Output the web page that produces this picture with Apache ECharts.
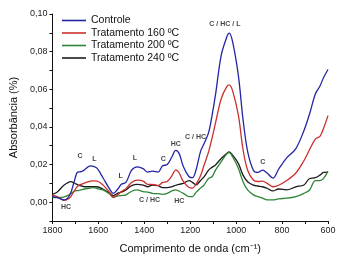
<!DOCTYPE html>
<html>
<head>
<meta charset="utf-8">
<script src="https://cdn.jsdelivr.net/npm/echarts@6/dist/echarts.min.js"></script>
<style>
  html, body { margin: 0; padding: 0; background: #fff; }
  #chart { width: 349px; height: 259px; }
</style>
</head>
<body>
<div id="chart"></div>
<script>
const wavenumbers = [
  1800, 1780, 1760, 1750, 1735, 1720, 1705, 1690, 1675, 1660,
  1635, 1620, 1605, 1580, 1550, 1535, 1515, 1500, 1480, 1455,
  1430, 1405, 1385, 1365, 1340, 1320, 1300, 1280, 1263, 1248,
  1230, 1205, 1190, 1175, 1155, 1140, 1120, 1105, 1090, 1065,
  1040, 1030, 1015, 990, 970, 950, 925, 905, 885, 865,
  840, 815, 780, 740, 705, 680, 655, 635, 620, 600
]

const controle = [
  0.0030, 0.0025, 0.0015, 0.0012, 0.0020, 0.0050, 0.0110, 0.0160, 0.0162, 0.0172,
  0.0193, 0.0190, 0.0180, 0.0130, 0.0068, 0.0047, 0.0070, 0.0095, 0.0105, 0.0170,
  0.0188, 0.0178, 0.0160, 0.0165, 0.0160, 0.0193, 0.0200, 0.0240, 0.0275, 0.0258,
  0.0190, 0.0135, 0.0130, 0.0170, 0.0270, 0.0310, 0.0370, 0.0460, 0.0570, 0.0780,
  0.0880, 0.0898, 0.0850, 0.0670, 0.0440, 0.0270, 0.0170, 0.0158, 0.0170, 0.0155,
  0.0128, 0.0175, 0.0235, 0.0285, 0.0380, 0.0470, 0.0575, 0.0617, 0.0660, 0.0705
]

const trat160 = [
  0.0037, 0.0030, 0.0015, 0.0010, 0.0015, 0.0030, 0.0060, 0.0085, 0.0095, 0.0102,
  0.0112, 0.0113, 0.0112, 0.0092, 0.0050, 0.0027, 0.0040, 0.0056, 0.0072, 0.0105,
  0.0117, 0.0112, 0.0095, 0.0095, 0.0088, 0.0105, 0.0110, 0.0140, 0.0172, 0.0155,
  0.0110, 0.0078, 0.0075, 0.0095, 0.0140, 0.0196, 0.0267, 0.0340, 0.0420, 0.0550,
  0.0615, 0.0623, 0.0590, 0.0460, 0.0280, 0.0170, 0.0118, 0.0110, 0.0112, 0.0100,
  0.0082, 0.0090, 0.0115, 0.0155, 0.0220, 0.0280, 0.0335, 0.0350, 0.0390, 0.0460
]

const trat200 = [
  0.0025, 0.0025, 0.0025, 0.0028, 0.0035, 0.0045, 0.0058, 0.0062, 0.0065, 0.0070,
  0.0075, 0.0077, 0.0072, 0.0065, 0.0042, 0.0025, 0.0033, 0.0035, 0.0039, 0.0058,
  0.0065, 0.0056, 0.0053, 0.0047, 0.0045, 0.0042, 0.0047, 0.0060, 0.0065, 0.0058,
  0.0047, 0.0030, 0.0030, 0.0052, 0.0075, 0.0091, 0.0126, 0.0135, 0.0170, 0.0215,
  0.0258, 0.0263, 0.0240, 0.0179, 0.0109, 0.0065, 0.0039, 0.0030, 0.0021, 0.0012,
  0.0012, 0.0018, 0.0021, 0.0030, 0.0047, 0.0065, 0.0115, 0.0115, 0.0125, 0.0165
]

const trat240 = [
  0.0042, 0.0053, 0.0078, 0.0090, 0.0102, 0.0109, 0.0102, 0.0092, 0.0086, 0.0082,
  0.0082, 0.0083, 0.0082, 0.0070, 0.0048, 0.0035, 0.0048, 0.0053, 0.0065, 0.0088,
  0.0095, 0.0091, 0.0082, 0.0091, 0.0088, 0.0077, 0.0077, 0.0082, 0.0090, 0.0095,
  0.0100, 0.0115, 0.0105, 0.0092, 0.0115, 0.0135, 0.0170, 0.0185, 0.0198, 0.0232,
  0.0260, 0.0267, 0.0249, 0.0205, 0.0144, 0.0109, 0.0091, 0.0086, 0.0082, 0.0074,
  0.0060, 0.0070, 0.0065, 0.0082, 0.0091, 0.0126, 0.0130, 0.0144, 0.0158, 0.0160
]

const seriesNames = ['Controle', 'Tratamento 160 ºC', 'Tratamento 200 ºC', 'Tratamento 240 ºC']
const seriesColors = ['#2424a6', '#c9302c', '#2f8535', '#1c1c1c']
const seriesValues = [controle, trat160, trat200, trat240]

// band labels: [wavenumber, absorbance, text]
const bandLabels = [
  [1680, 0.0246, 'C'],
  [1617, 0.0228, 'L'],
  [1503, 0.0141, 'L'],
  [1441, 0.0235, 'L'],
  [1317, 0.0228, 'C'],
  [1263, 0.0310, 'HC'],
  [1177, 0.0346, 'C / HC'],
  [1049, 0.0947, 'C / HC / L'],
  [884, 0.0214, 'C'],
  [1741, -0.0026, 'HC'],
  [1377, 0.0012, 'C / HC'],
  [1248, 0.0007, 'HC']
]

const chart = echarts.init(document.getElementById('chart'))

const lineSeries = seriesNames.map((name, i) => ({
  name: name,
  type: 'line',
  symbol: 'none',
  smooth: 0.35,
  data: wavenumbers.map((w, j) => [w, seriesValues[i][j]]),
  lineStyle: { color: seriesColors[i], width: 1.3 },
  itemStyle: { color: seriesColors[i] },
  z: 10 - i
}))

const option = {
  animation: false,
  backgroundColor: '#fff',
  textStyle: { fontFamily: 'Liberation Sans, Arial, sans-serif' },
  grid: { left: 48, right: 21, top: 14, bottom: 36 },
  legend: {
    data: seriesNames,
    orient: 'vertical',
    left: 62,
    top: 15,
    padding: 0,
    icon: 'rect',
    itemWidth: 24,
    itemHeight: 1.6,
    itemGap: 1.5,
    textStyle: { fontSize: 10.5, color: '#111' }
  },
  xAxis: {
    type: 'value',
    inverse: true,
    min: 600,
    max: 1800,
    interval: 100,
    name: 'Comprimento de onda (cm⁻¹)',
    nameLocation: 'middle',
    nameGap: 22,
    nameTextStyle: { fontSize: 11, color: '#111' },
    axisLine: { onZero: false, lineStyle: { color: '#111', width: 1 } },
    axisTick: { length: 3, lineStyle: { color: '#111' } },
    axisLabel: {
      fontSize: 9,
      color: '#222',
      margin: 5,
      formatter: v => (v % 200 === 0 ? String(v) : '')
    },
    splitLine: { show: false }
  },
  yAxis: {
    type: 'value',
    min: -0.01,
    max: 0.10,
    interval: 0.01,
    name: 'Absorbância (%)',
    nameLocation: 'middle',
    nameGap: 32,
    nameTextStyle: { fontSize: 11, color: '#111' },
    axisLine: { show: true, onZero: false, lineStyle: { color: '#111', width: 1 } },
    axisTick: { show: true, length: 3, lineStyle: { color: '#111' } },
    axisLabel: {
      fontSize: 9,
      color: '#222',
      margin: 5,
      formatter: v => {
        const k = Math.round(v * 100)
        return k >= 0 && k % 2 === 0 ? v.toFixed(2).replace('.', ',') : ''
      }
    },
    splitLine: { show: false }
  },
  series: [
    ...lineSeries,
    {
      name: 'labels',
      type: 'scatter',
      symbolSize: 0,
      silent: true,
      data: bandLabels.map(b => ({ value: [b[0], b[1]], label: { formatter: b[2] } })),
      label: {
        show: true,
        position: 'inside',
        fontSize: 7,
        fontWeight: 'bold',
        color: '#111'
      },
      z: 20
    }
  ]
}

chart.setOption(option)
</script>
</body>
</html>
